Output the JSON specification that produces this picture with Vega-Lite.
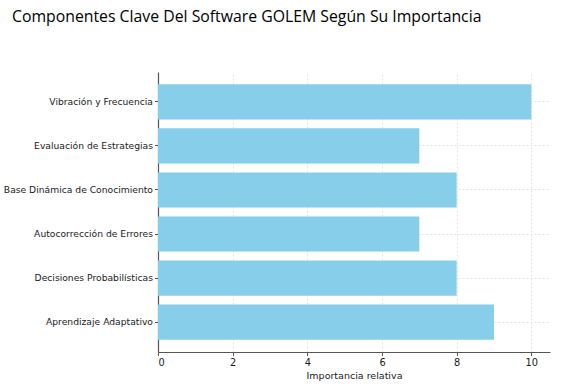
{
  "$schema": "https://vega.github.io/schema/vega-lite/v6.json",
  "autosize": {"type": "none"},
  "padding": {"left": 158, "top": 72, "right": 34, "bottom": 37},
  "width": 392,
  "height": 280,
  "background": "white",
  "title": {
    "text": "Componentes Clave Del Software GOLEM Según Su Importancia",
    "anchor": "start",
    "frame": "group",
    "dx": -146,
    "offset": 46,
    "font": "Open Sans",
    "fontSize": 15.8,
    "fontWeight": "normal",
    "color": "#000000"
  },
  "data": {
    "values": [
      {"componente": "Vibración y Frecuencia", "importancia": 10},
      {"componente": "Evaluación de Estrategias", "importancia": 7},
      {"componente": "Base Dinámica de Conocimiento", "importancia": 8},
      {"componente": "Autocorrección de Errores", "importancia": 7},
      {"componente": "Decisiones Probabilísticas", "importancia": 8},
      {"componente": "Aprendizaje Adaptativo", "importancia": 9}
    ]
  },
  "config": {
    "view": {"stroke": null},
    "axis": {
      "labelFont": "DejaVu Sans",
      "titleFont": "DejaVu Sans",
      "labelFontSize": 9.2,
      "titleFontSize": 9.5,
      "titleFontWeight": "normal",
      "labelColor": "#1a1a1a",
      "titleColor": "#1a1a1a",
      "domainColor": "#555555",
      "domainWidth": 1.2,
      "tickColor": "#555555",
      "tickSize": 3.5,
      "gridColor": "#dddddd",
      "gridDash": [2, 2],
      "gridWidth": 0.8
    }
  },
  "mark": {"type": "bar", "color": "#87CEEB"},
  "encoding": {
    "y": {
      "field": "componente",
      "type": "nominal",
      "sort": null,
      "title": null,
      "scale": {"paddingInner": 0.2, "paddingOuter": 0.28},
      "axis": {"grid": true, "labelPadding": 2, "bandPosition": 0.5, "labelLimit": 200}
    },
    "x": {
      "field": "importancia",
      "type": "quantitative",
      "title": "Importancia relativa",
      "scale": {"domain": [0, 10.5], "nice": false},
      "axis": {"values": [0, 2, 4, 6, 8, 10], "grid": true, "titlePadding": 3, "labelPadding": 2, "labelFontSize": 9.8}
    }
  }
}
